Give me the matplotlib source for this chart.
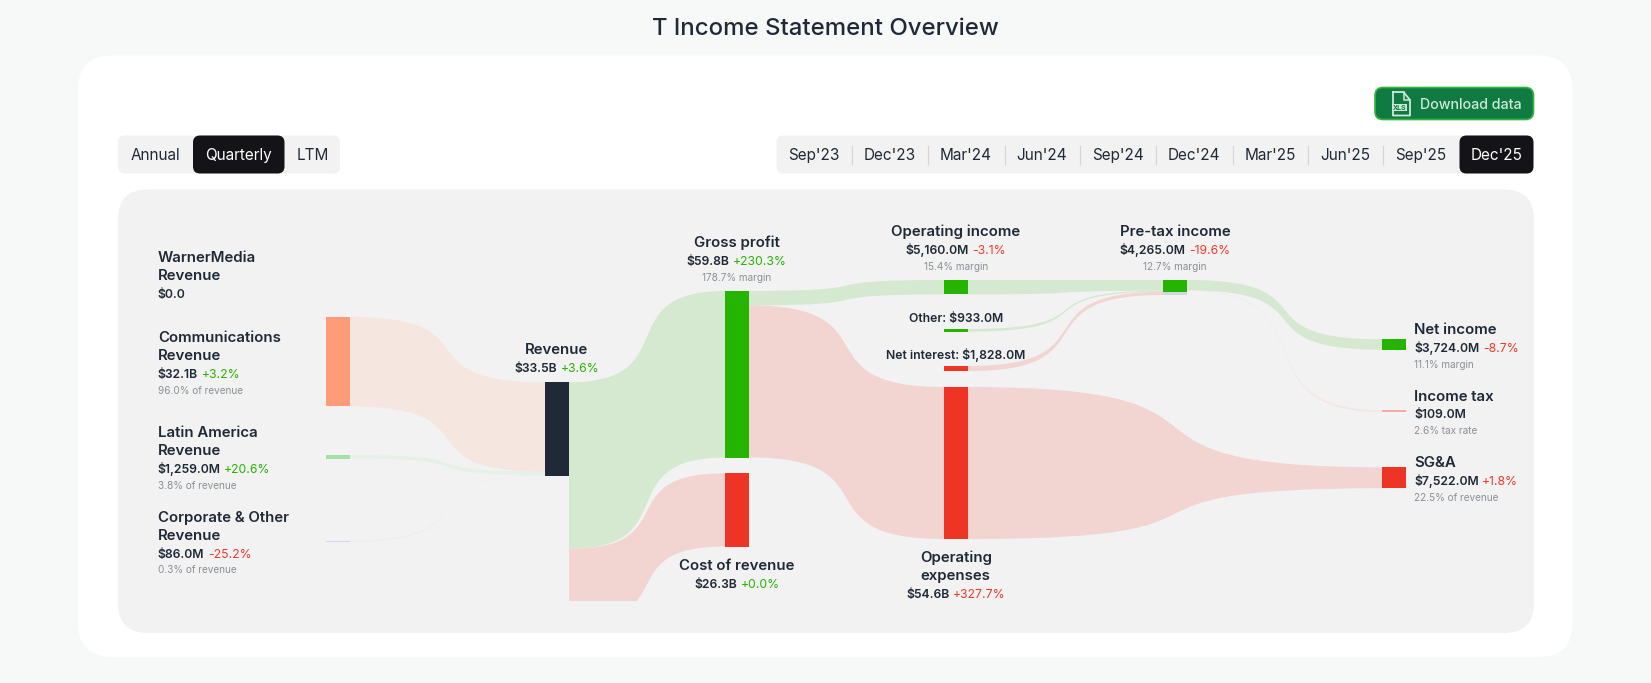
import matplotlib
matplotlib.use("Agg")
import matplotlib.pyplot as plt
from matplotlib.patches import FancyBboxPatch, PathPatch, Rectangle
from matplotlib.path import Path

# ---------- data ----------
title = "T Income Statement Overview"
modes = ["Annual", "Quarterly", "LTM"]
periods = ["Sep'23", "Dec'23", "Mar'24", "Jun'24", "Sep'24", "Dec'24", "Mar'25", "Jun'25", "Sep'25", "Dec'25"]

node_names = ["comm", "latam", "corp", "rev", "gp", "cost", "opinc", "other", "netint", "opex", "pretax", "net", "tax", "sga"]
node_values = [32100, 1259, 86, 33500, 59800, 26300, 5160, 933, 1828, 54600, 4265, 3724, 109, 7522]

link_sources = ["comm", "latam", "corp", "rev", "rev", "gp", "gp", "opinc", "other", "netint", "pretax", "pretax", "opex"]
link_targets = ["rev", "rev", "rev", "gp", "cost", "opinc", "opex", "pretax", "pretax", "pretax", "net", "tax", "sga"]
link_out_values = [32100, 1259, 86, 59800, 26300, 5160, 54600, 5160, 933, 1828, 3724, 109, 54600]
link_in_values = [32100, 1259, 150, 59800, 26300, 5160, 54600, 3850, 450, 1080, 3724, 600, 7522]

# ---------- layout and style ----------
W, H = 1651, 683
PX_PER_M = 93.3 / 33500
NODE_W = 24
MIN_NODE_H = {"corp": 1.3, "tax": 1.7}
col_x = {"comm": 326, "latam": 326, "corp": 326, "rev": 545, "gp": 725, "cost": 725,
         "opinc": 944, "other": 944, "netint": 944, "opex": 944,
         "pretax": 1163, "net": 1382, "tax": 1382, "sga": 1382}
node_top = {"comm": 317, "latam": 455, "corp": 540.7, "rev": 382.3, "gp": 291, "cost": 473.3,
            "opinc": 280, "other": 329, "netint": 366, "opex": 387,
            "pretax": 280, "net": 339.3, "tax": 410.3, "sga": 467.3}
GREEN, RED, DARK = "#25b400", "#ee3424", "#1f2937"
node_color = {"comm": "#ff9b78", "latam": "#a3e2a3", "corp": "#d9d0f5", "rev": DARK, "gp": GREEN, "cost": RED,
              "opinc": GREEN, "other": GREEN, "netint": RED, "opex": RED, "pretax": GREEN,
              "net": GREEN, "tax": "#f6aba2", "sga": RED}
R_GREEN, R_RED = "#d4e9cf", "#f2d4d1"
link_color = ["#f5e6df", "#e6f1e5", "#eeeef2", R_GREEN, R_RED, R_GREEN, R_RED,
              R_GREEN, R_GREEN, R_RED, R_GREEN, "#f5e6e3", R_RED]
BEND = 0.75
GREY = "#8b9097"
PCT_G, PCT_R = "#25b400", "#f0392b"

plt.rcParams["font.family"] = ["Inter", "DejaVu Sans"]
fig = plt.figure(figsize=(W / 100, H / 100), dpi=100, facecolor="#f7f9f8")
ax = fig.add_axes([0, 0, 1, 1])
ax.set_xlim(0, W)
ax.set_ylim(H, 0)
ax.axis("off")
renderer = fig.canvas.get_renderer()


def box(x0, y0, x1, y1, r, fc, ec="none", lw=0, z=1):
    p = FancyBboxPatch((x0, y0), x1 - x0, y1 - y0, boxstyle=f"round,pad=0,rounding_size={r}",
                       fc=fc, ec=ec, lw=lw, zorder=z, mutation_aspect=1)
    ax.add_patch(p)
    return p


def line_text(x, y, segs, ha="left", z=6):
    """segs: (text, size_px, weight, colour); y is the visual centre."""
    gap = 3.5
    arts = []
    total = 0
    for s, size, weight, col in segs:
        t = ax.text(0, y + size * 0.36, s, fontsize=size * 0.72, fontweight=weight, color=col,
                    ha="left", va="baseline", zorder=z)
        w = t.get_window_extent(renderer).width
        arts.append((t, w))
        total += w
    total += gap * (len(segs) - 1)
    cur = x - total / 2 if ha == "center" else x
    for t, w in arts:
        t.set_x(cur)
        cur += w + gap


# ---------- page ----------
box(78, 55.5, 1572.5, 657, 34, "white", z=0.5)
box(118, 189.5, 1534, 633, 30, "#f2f2f2", z=1)
line_text(825.5, 26, [(title, 24, "medium", DARK)], ha="center")

# mode toggle
box(118, 135.5, 340, 173.5, 7, "#f2f2f2")
box(193, 135.5, 284.5, 173.5, 7, "#131318", z=2)
for m, cx, c in zip(modes, [155, 239, 312.5], [DARK, "white", DARK]):
    line_text(cx, 154.5, [(m, 15.3, "normal", c)], ha="center")

# period tabs
box(776.5, 135.5, 1533.5, 173.5, 7, "#f2f2f2")
box(1459.5, 135.5, 1533.5, 173.5, 7, "#131318", z=2)
tab_cx = [813.5, 889.7, 966, 1042, 1118, 1194, 1270, 1345.5, 1420.7, 1496.4]
tab_sep = [851.6, 927.8, 1004.6, 1079.7, 1156, 1232.7, 1308.4, 1383]
for p, cx in zip(periods, tab_cx):
    line_text(cx, 154.5, [(p, 15.3, "normal", "white" if p == periods[-1] else DARK)], ha="center")
for sx in tab_sep:
    ax.plot([sx, sx], [145.5, 163.5], color="#d6d6d6", lw=0.9, zorder=3)

# download button
box(1375, 87.5, 1533.5, 119.5, 8, "#0f7a41", ec="#35b53f", lw=1.2, z=2)
line_text(1470.5, 104, [("Download data", 14.2, "medium", "#cfe9d8")], ha="center")
ICON = "#cfe9d8"
icon_x = [1393, 1403.5, 1410, 1410, 1393, 1393]
icon_y = [92, 92, 100, 115.5, 115.5, 92]
ax.plot(icon_x, icon_y, color=ICON, lw=1.3, zorder=4, solid_joinstyle="round")
ax.plot([1403.5, 1403.5, 1410], [92, 100, 100], color=ICON, lw=1.1, zorder=4)
ax.add_patch(Rectangle((1391.5, 103.8), 15.5, 7.6, fc=ICON, ec="none", zorder=4))
ax.text(1399.2, 107.7, "XLS", fontsize=5.0, fontweight="bold", color="#0f7a41", ha="center", va="center", zorder=5)

# ---------- sankey ----------
idx = {n: i for i, n in enumerate(node_names)}
out_cursor = dict(node_top)
in_cursor = dict(node_top)
clip = Rectangle((118, 189.5), 1416, 411.2, transform=ax.transData)
for s, t, vo, vi, col in zip(link_sources, link_targets, link_out_values, link_in_values, link_color):
    x0, x1 = col_x[s] + NODE_W, col_x[t]
    wo, wi = vo * PX_PER_M, vi * PX_PER_M
    if s == "corp":
        wo = MIN_NODE_H["corp"]
    y0a, y0b = out_cursor[s], out_cursor[s] + wo
    y1a, y1b = in_cursor[t], in_cursor[t] + wi
    out_cursor[s] = y0b
    in_cursor[t] = y1b
    L = x1 - x0
    verts = [(x0, y0a), (x0 + BEND * L, y0a), (x1 - BEND * L, y1a), (x1, y1a),
             (x1, y1b), (x1 - BEND * L, y1b), (x0 + BEND * L, y0b), (x0, y0b), (x0, y0a)]
    codes = [Path.MOVETO, Path.CURVE4, Path.CURVE4, Path.CURVE4, Path.LINETO,
             Path.CURVE4, Path.CURVE4, Path.CURVE4, Path.CLOSEPOLY]
    patch = PathPatch(Path(verts, codes), fc=col, ec="none", zorder=2)
    ax.add_patch(patch)
    patch.set_clip_path(clip)

# pre-tax node keeps a pale strip for the part that is not carried on
pretax_h = node_values[idx["pretax"]] * PX_PER_M
ax.add_patch(Rectangle((col_x["pretax"], node_top["pretax"] + pretax_h), NODE_W, 3.0, fc="#cfd8e2", ec="none", zorder=3))
for n, v in zip(node_names, node_values):
    h = max(v * PX_PER_M, MIN_NODE_H.get(n, 0))
    ax.add_patch(Rectangle((col_x[n], node_top[n]), NODE_W, h, fc=node_color[n], ec="none", zorder=4))

# ---------- labels ----------
T, V, S = 15, 12.2, 10
def head(s): return (s, T, "semibold", DARK)
def val(s): return (s, V, "semibold", DARK)
def pct(s):
    col = PCT_R if s.startswith("-") else PCT_G
    return (s, V, "normal", col)
def sub(s): return (s, S, "normal", GREY)

LX = 157.8
line_text(LX, 256.7, [head("WarnerMedia")])
line_text(LX, 274.7, [head("Revenue")])
line_text(LX, 293.3, [val("$0.0")])

line_text(LX, 336.7, [head("Communications")])
line_text(LX, 354.7, [head("Revenue")])
line_text(LX, 373.3, [val("$32.1B"), pct("+3.2%")])
line_text(LX, 390, [sub("96.0% of revenue")])

line_text(LX, 431.7, [head("Latin America")])
line_text(LX, 449.7, [head("Revenue")])
line_text(LX, 468.3, [val("$1,259.0M"), pct("+20.6%")])
line_text(LX, 485, [sub("3.8% of revenue")])

line_text(LX, 516.7, [head("Corporate & Other")])
line_text(LX, 534.7, [head("Revenue")])
line_text(LX, 553.3, [val("$86.0M"), pct("-25.2%")])
line_text(LX, 569, [sub("0.3% of revenue")])

line_text(556.8, 348.7, [head("Revenue")], ha="center")
line_text(556.8, 367.3, [val("$33.5B"), pct("+3.6%")], ha="center")

line_text(737, 241.7, [head("Gross profit")], ha="center")
line_text(737, 260.3, [val("$59.8B"), pct("+230.3%")], ha="center")
line_text(737, 277.3, [sub("178.7% margin")], ha="center")

line_text(737, 564.7, [head("Cost of revenue")], ha="center")
line_text(737, 583.3, [val("$26.3B"), pct("+0.0%")], ha="center")

line_text(955.8, 230.7, [head("Operating income")], ha="center")
line_text(955.8, 249.3, [val("$5,160.0M"), pct("-3.1%")], ha="center")
line_text(955.8, 266.3, [sub("15.4% margin")], ha="center")

line_text(955.8, 317.3, [val("Other: $933.0M")], ha="center")
line_text(955.8, 354.3, [val("Net interest: $1,828.0M")], ha="center")

line_text(955.8, 556.7, [head("Operating")], ha="center")
line_text(955, 574.7, [head("expenses")], ha="center")
line_text(955.8, 593.3, [val("$54.6B"), ("+327.7%", V, "normal", PCT_R)], ha="center")

line_text(1175, 230.7, [head("Pre-tax income")], ha="center")
line_text(1175, 249.3, [val("$4,265.0M"), pct("-19.6%")], ha="center")
line_text(1175, 266.3, [sub("12.7% margin")], ha="center")

RX = 1414
line_text(RX, 328.7, [head("Net income")])
line_text(RX, 347.3, [val("$3,724.0M"), pct("-8.7%")])
line_text(RX, 364.3, [sub("11.1% margin")])

line_text(RX, 395.3, [head("Income tax")])
line_text(RX, 414, [val("$109.0M")])
line_text(RX, 430, [sub("2.6% tax rate")])

line_text(RX, 461.7, [head("SG&A")])
line_text(RX, 480.3, [val("$7,522.0M"), ("+1.8%", V, "normal", PCT_R)])
line_text(RX, 497, [sub("22.5% of revenue")])

fig.savefig("out.png", dpi=100, facecolor=fig.get_facecolor())
